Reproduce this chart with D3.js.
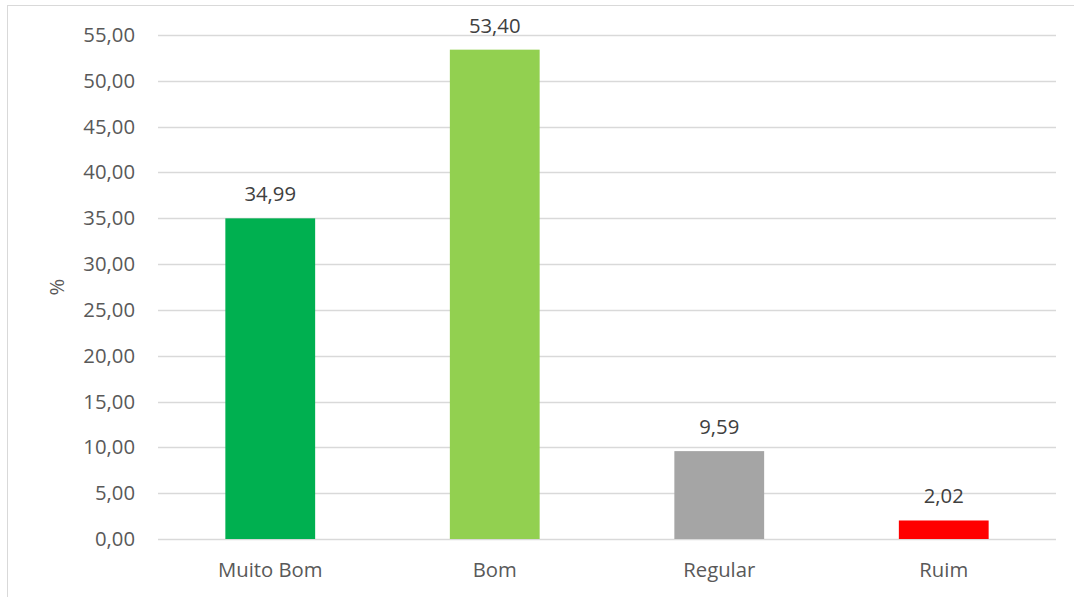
<!DOCTYPE html>
<html><head><meta charset="utf-8">
<script src="https://cdn.jsdelivr.net/npm/d3@7"></script>
<style>body{margin:0;background:#fff;} svg{display:block;}</style>
</head><body>
<script>
const categories = ["Muito Bom", "Bom", "Regular", "Ruim"];
const values = [34.99, 53.40, 9.59, 2.02];
const colors = ["#00B050", "#92D050", "#A5A5A5", "#FF0000"];
const yTicks = [0, 5, 10, 15, 20, 25, 30, 35, 40, 45, 50, 55];
const yTitle = "%";

const W = 1074, H = 597;
const margin = {left: 158, right: 18, top: 35, bottom: 58};
const svg = d3.select("body").append("svg").attr("width", W).attr("height", H);
const font = "'Open Sans', 'DejaVu Sans', sans-serif";
const fs = 20.3;

// outer frame
svg.append("rect").attr("x", 7.5).attr("y", 5.5).attr("width", W + 10).attr("height", H + 10)
  .attr("fill", "none").attr("stroke", "#D9D9D9").attr("stroke-width", 1);

const x = d3.scaleBand().domain(categories).range([margin.left, W - margin.right]).paddingInner(0.6).paddingOuter(0.3);
const y = d3.scaleLinear().domain([0, 55]).range([H - margin.bottom, margin.top]);

// gridlines
svg.append("g").selectAll("line").data(yTicks).join("line")
  .attr("x1", margin.left).attr("x2", W - margin.right)
  .attr("y1", d => Math.round(y(d)) + 0.5).attr("y2", d => Math.round(y(d)) + 0.5)
  .attr("stroke", "#D9D9D9").attr("stroke-width", 1.5);

// y axis labels
const fmt = d => d3.format(".2f")(d).replace(".", ",");
const yAxis = d3.axisLeft(y).tickValues(yTicks).tickFormat(fmt).tickSize(0).tickPadding(23);
const ga = svg.append("g").attr("transform", `translate(${margin.left},0)`).call(yAxis);
ga.select(".domain").remove();
ga.selectAll("text").attr("font-family", font).attr("font-size", fs).attr("fill", "#595959");

// x axis labels
const xAxis = d3.axisBottom(x).tickSize(0).tickPadding(24);
const gx = svg.append("g").attr("transform", `translate(0,${y(0)})`).call(xAxis);
gx.select(".domain").remove();
gx.selectAll("text").attr("font-family", font).attr("font-size", fs).attr("fill", "#595959");

// bars
svg.append("g").selectAll("rect").data(values).join("rect")
  .attr("x", (d, i) => x(categories[i]))
  .attr("width", x.bandwidth())
  .attr("y", d => y(d))
  .attr("height", d => y(0) - y(d))
  .attr("fill", (d, i) => colors[i]);

// data labels
svg.append("g").selectAll("text").data(values).join("text")
  .attr("x", (d, i) => x(categories[i]) + x.bandwidth() / 2)
  .attr("y", d => y(d) - 17)
  .attr("text-anchor", "middle")
  .attr("font-family", font).attr("font-size", fs).attr("fill", "#404040")
  .text(d => fmt(d));

// y title
svg.append("text")
  .attr("transform", `translate(64,${(y(0) + y(55)) / 2}) rotate(-90)`)
  .attr("text-anchor", "middle")
  .attr("font-family", font).attr("font-size", fs).attr("fill", "#595959")
  .text(yTitle);
</script>
</body></html>
